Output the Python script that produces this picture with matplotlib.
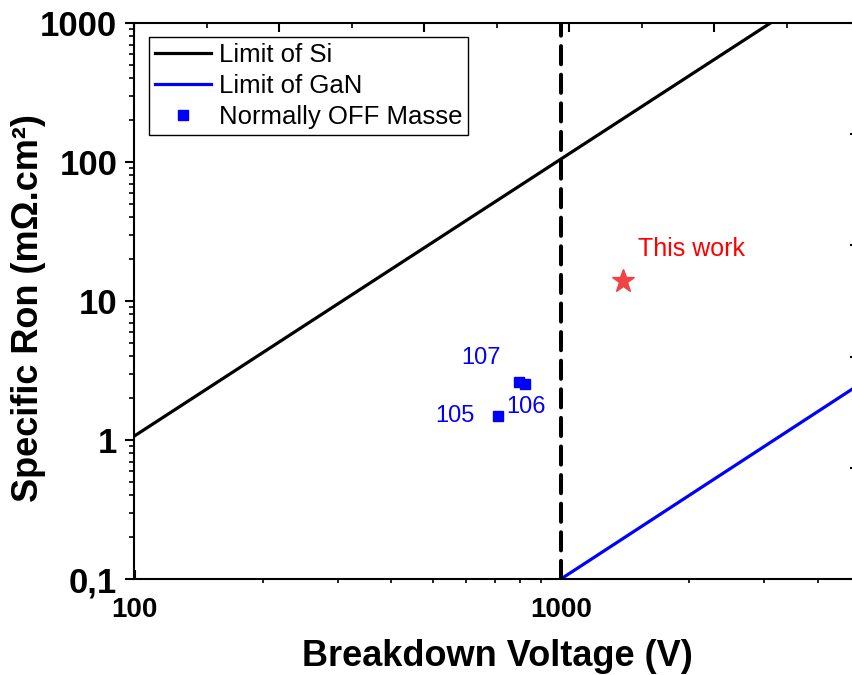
import matplotlib
matplotlib.use('Agg')
import matplotlib.pyplot as plt
from matplotlib.ticker import LogLocator, NullFormatter

plt.rcParams['font.family'] = ['Liberation Sans', 'DejaVu Sans']

# ---------------- data ----------------
si_voltage = [100, 3100]
si_ron = [1.07, 1000]

gan_voltage = [1000, 5000]
gan_ron = [0.1, 2.5]

ref_labels = ['105', '106', '107']
ref_voltage = [710, 825, 799]
ref_ron = [1.49, 2.53, 2.61]

this_work_label = 'This work'
this_work_voltage = [1400]
this_work_ron = [13.9]

limit_voltage = 1000

x_ticks = [100, 1000]
x_tick_labels = ['100', '1000']
y_ticks = [0.1, 1, 10, 100, 1000]
y_tick_labels = ['0,1', '1', '10', '100', '1000']

# ---------------- layout ----------------
W, H = 853, 675
L, R, T, B = 134.5, 859, 23, 579
fig = plt.figure(figsize=(W / 100, H / 100), dpi=100)
ax = fig.add_axes([L / W, 1 - B / H, (R - L) / W, (B - T) / H])
ax.set_xscale('log')
ax.set_yscale('log')
ax.set_xlim(100, 5000)
ax.set_ylim(0.1, 1000)

ax.plot(si_voltage, si_ron, color='black', lw=2.3, label='Limit of Si')
ax.plot(gan_voltage, gan_ron, color='#0000FF', lw=2.3, label='Limit of GaN')
ax.plot(ref_voltage, ref_ron, ls='none', marker='s', ms=7.2, color='#0000FF',
        label='Normally OFF Masse')
ax.axvline(limit_voltage, color='black', lw=2.9, ls=(0, (4.5, 2.6)),
           dash_capstyle='round')
ax.plot(this_work_voltage, this_work_ron, ls='none', marker='*', ms=17,
        color='#EE4444', mec='#EE4444')

# point labels (offsets in pixels)
offsets = {'105': (-42.5, -6), '106': (1, -29), '107': (-38.5, 18)}
for lab, v, r in zip(ref_labels, ref_voltage, ref_ron):
    ax.annotate(lab, xy=(v, r), xytext=offsets[lab], textcoords='offset pixels',
                ha='center', va='baseline', fontsize=17, color='#0000FF')
ax.annotate(this_work_label, xy=(this_work_voltage[0], this_work_ron[0]),
            xytext=(68, 25), textcoords='offset pixels', ha='center',
            va='baseline', fontsize=18, color='#FF0000')

# ticks
ax.set_xticks(x_ticks, x_tick_labels, fontweight='bold')
ax.set_yticks(y_ticks, y_tick_labels, fontweight='bold')
ax.xaxis.set_minor_locator(LogLocator(base=10, subs=range(2, 10), numticks=20))
ax.yaxis.set_minor_locator(LogLocator(base=10, subs=range(2, 10), numticks=20))
ax.xaxis.set_minor_formatter(NullFormatter())
ax.yaxis.set_minor_formatter(NullFormatter())
ax.tick_params(which='both', top=False, right=False)
ax.tick_params(axis='y', which='major', direction='out', length=6.5, width=1.5,
               pad=6, labelsize=25)
ax.tick_params(axis='y', which='minor', direction='out', length=3.6, width=1.2)
ax.tick_params(axis='x', which='major', direction='in', length=6.5, width=1.5,
               pad=13, labelsize=20)
ax.tick_params(axis='x', which='minor', direction='out', length=3.2, width=1.2)
for s in ax.spines.values():
    s.set_linewidth(1.5)

# stray top/right ticks (secondary layer)
ax2 = fig.add_axes(ax.get_position(), frameon=False)
ax2.patch.set_visible(False)
ax2.set_xlim(0, 5)
ax2.set_ylim(0, 5)
ax2.xaxis.tick_top()
ax2.yaxis.tick_right()
ax2.set_xticks(range(6))
ax2.set_xticks([i + 0.5 for i in range(5)], minor=True)
ax2.set_yticks(range(6))
ax2.tick_params(which='both', direction='in', labeltop=False, labelright=False,
                labelbottom=False, labelleft=False)
ax2.tick_params(which='major', length=6.5, width=1.5)
ax2.tick_params(which='minor', length=3.6, width=1.2)

# legend
leg = ax.legend(loc='upper left', bbox_to_anchor=(149 / W, 1 - 37 / H),
                bbox_transform=fig.transFigure, borderaxespad=0, fontsize=18.5,
                frameon=True, fancybox=False, edgecolor='black', framealpha=1,
                borderpad=0.22, labelspacing=0.28, handlelength=2.2,
                handletextpad=0.31, numpoints=1)
leg.get_frame().set_linewidth(1.0)

# axis labels
fig.text(38 / W, 1 - 308 / H, 'Specific Ron (mΩ.cm²)', rotation=90,
         rotation_mode='anchor', ha='center', va='baseline', fontsize=26,
         fontweight='bold')
fig.text(497 / W, 1 - 666 / H, 'Breakdown Voltage (V)', ha='center',
         va='baseline', fontsize=26, fontweight='bold')

fig.savefig('out.png', dpi=100)
